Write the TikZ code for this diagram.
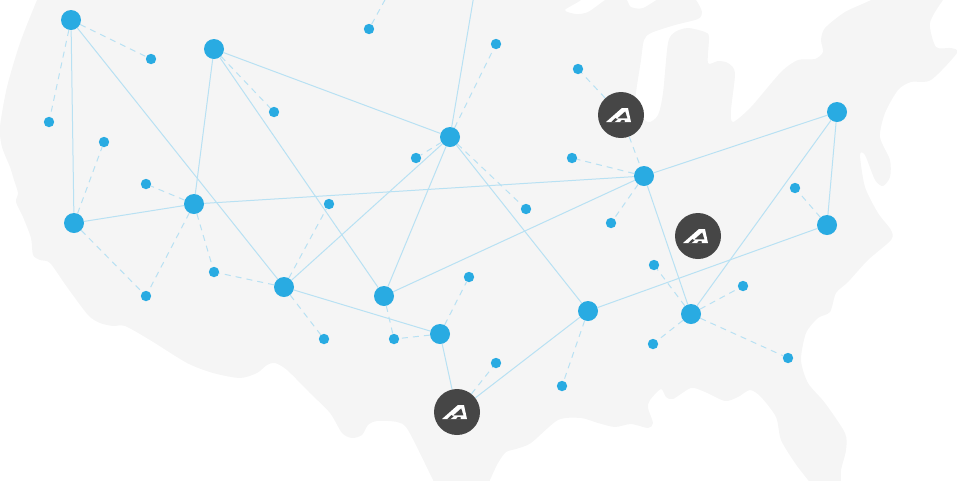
\documentclass[tikz,border=0pt]{standalone}
\usepackage{xcolor}

\definecolor{mapgray}{HTML}{F5F5F5}
\definecolor{dotblue}{HTML}{29ABE2}
\definecolor{linkblue}{HTML}{B8E1F3}
\definecolor{hubgray}{HTML}{464646}

\tikzset{
	bigdot/.style={circle, fill=dotblue, inner sep=0pt, minimum size=15pt},
	smalldot/.style={circle, fill=dotblue, inner sep=0pt, minimum size=7.8pt},
	hubdot/.style={circle, fill=hubgray, inner sep=0pt, minimum size=34.5pt},
	link/.style={draw=linkblue, line width=0.75pt},
	dashlink/.style={draw=linkblue, line width=0.75pt, dash pattern=on 4.5pt off 3.8pt},
	hublogo/.pic={
		% y runs upward inside the pic
		\fill[white] (-15,-7) -- (0.7,6.8) -- (7,6.8) -- (10,-7) -- cycle;
		\fill[hubgray] (4.2,3.6) -- (6.4,-3.4) -- (-3.6,-3.4) -- cycle;
		\fill[hubgray] (-10,-7.4) -- (-7,-7.4) -- (-3.4,-4.5) -- (-5.5,-3) -- cycle;
		\fill[hubgray] (-1.2,-7.4) -- (3.8,-7.4) -- (3.6,-5) -- (0.8,-5) -- cycle;
	}
}

\begin{document}
\begin{tikzpicture}[x=0.75pt,y=0.75pt,yscale=-1,xscale=1]
	\useasboundingbox (0,0) rectangle (957,480);
	\clip (0,0) rectangle (957,480);

	% The gray map in the background
	\fill[mapgray] plot[smooth cycle, tension=0.45] coordinates {
		(44,-15) (37,0) (20,43) (7,87) (0,127) (2,147) (10,167) (14,180) (18,193) (16,202) (23,217) (31,238)
		(33,255) (40,260) (50,263) (67,287) (88,315) (100,323) (113,326) (125,326) (150,340) (187,363) (213,373) (240,378)
		(257,373) (267,365) (275,363) (287,370) (310,393) (330,413) (342,433) (352,438) (362,435) (368,425) (377,421)
		(397,422) (408,430) (433,480) (440,495) (484,495) (490,480) (498,463) (506,452) (516,449) (531,443) (558,420) (581,418)
		(598,423) (615,427) (631,424) (648,428) (653,423) (648,408) (650,400) (661,389) (666,397) (673,399) (691,388)
		(705,392) (725,401) (738,397) (750,390) (761,397) (776,417) (781,440) (795,463) (808,480) (820,495) (838,495) (841,480)
		(841,470) (846,450) (845,433) (825,403) (808,383) (801,360) (806,333) (818,318) (830,312) (836,293) (848,282)
		(868,260) (891,240) (891,230) (878,213) (865,187) (860,155) (865,155) (875,180) (883,186) (890,177) (890,160)
		(880,137) (885,113) (898,90) (911,82) (931,80) (957,53) (951,48) (936,47) (930,23) (943,0) (955,-12) (890,-12)
		(871,0) (845,12) (825,28) (821,40) (823,52) (815,59) (798,60) (781,72) (751,107) (733,122) (731,110) (735,73)
		(728,63) (718,61) (708,63) (709,37) (705,32) (688,28) (675,32) (668,43) (663,93) (658,115) (648,122) (635,107)
		(641,60) (644,40) (651,33) (675,25) (698,19) (702,12) (696,0) (685,-10) (665,-5) (643,8) (631,7) (627,0) (620,-10)
		(605,0) (588,12) (576,14) (565,10) (581,0) (590,-12)
	};

	% The big blue dots
	\node[bigdot] (west) at (71,20) {};
	\node[bigdot] (north) at (214,49) {};
	\node[bigdot] (center) at (450,137) {};
	\node[bigdot] (lakes) at (644,176) {};
	\node[bigdot] (east) at (837,112) {};
	\node[bigdot] (coast) at (827,225) {};
	\node[bigdot] (rocky) at (194,204) {};
	\node[bigdot] (bay) at (74,223) {};
	\node[bigdot] (mesa) at (284,287) {};
	\node[bigdot] (plains) at (384,296) {};
	\node[bigdot] (lone) at (440,334) {};
	\node[bigdot] (delta) at (588,311) {};
	\node[bigdot] (south) at (691,314) {};

	% The small blue dots
	\node[smalldot] (s1) at (151,59) {};
	\node[smalldot] (s2) at (49,122) {};
	\node[smalldot] (s3) at (104,142) {};
	\node[smalldot] (s4) at (146,184) {};
	\node[smalldot] (s5) at (274,112) {};
	\node[smalldot] (s6) at (369,29) {};
	\node[smalldot] (s7) at (496,44) {};
	\node[smalldot] (s8) at (416,158) {};
	\node[smalldot] (s9) at (329,204) {};
	\node[smalldot] (s10) at (526,209) {};
	\node[smalldot] (s11) at (578,69) {};
	\node[smalldot] (s12) at (572,158) {};
	\node[smalldot] (s13) at (611,223) {};
	\node[smalldot] (s14) at (795,188) {};
	\node[smalldot] (s15) at (654,265) {};
	\node[smalldot] (s16) at (743,286) {};
	\node[smalldot] (s17) at (653,344) {};
	\node[smalldot] (s18) at (788,358) {};
	\node[smalldot] (s19) at (214,272) {};
	\node[smalldot] (s20) at (146,296) {};
	\node[smalldot] (s21) at (324,339) {};
	\node[smalldot] (s22) at (394,339) {};
	\node[smalldot] (s23) at (469,277) {};
	\node[smalldot] (s24) at (496,363) {};
	\node[smalldot] (s25) at (562,386) {};

	% The dark dots with the logo
	\node[hubdot] (hubA) at (621,115) {};
	\node[hubdot] (hubB) at (698,236) {};
	\node[hubdot] (hubC) at (457,412) {};
	\pic at (hubA) {hublogo};
	\pic at (hubB) {hublogo};
	\pic at (hubC) {hublogo};

	% The two lines that leave the picture at the top
	\coordinate (topA) at (473.5,-2);
	\coordinate (topB) at (386,-2);

	% The solid lines
	\draw[link] (west) -- (bay);
	\draw[link] (west) -- (mesa);
	\draw[link] (north) -- (rocky);
	\draw[link] (north) -- (plains);
	\draw[link] (north) -- (center);
	\draw[link] (center) -- (topA);
	\draw[link] (center) -- (mesa);
	\draw[link] (center) -- (plains);
	\draw[link] (center) -- (delta);
	\draw[link] (rocky) -- (bay);
	\draw[link] (rocky) -- (lakes);
	\draw[link] (lakes) -- (plains);
	\draw[link] (lakes) -- (east);
	\draw[link] (lakes) -- (south);
	\draw[link] (east) -- (south);
	\draw[link] (east) -- (coast);
	\draw[link] (coast) -- (delta);
	\draw[link] (mesa) -- (lone);
	\draw[link] (lone) -- (hubC);
	\draw[link] (delta) -- (hubC);

	% The dashed lines
	\draw[dashlink] (west) -- (s1);
	\draw[dashlink] (west) -- (s2);
	\draw[dashlink] (bay) -- (s3);
	\draw[dashlink] (bay) -- (s20);
	\draw[dashlink] (rocky) -- (s4);
	\draw[dashlink] (rocky) -- (s20);
	\draw[dashlink] (rocky) -- (s19);
	\draw[dashlink] (mesa) -- (s19);
	\draw[dashlink] (mesa) -- (s9);
	\draw[dashlink] (mesa) -- (s21);
	\draw[dashlink] (north) -- (s5);
	\draw[dashlink] (s6) -- (topB);
	\draw[dashlink] (center) -- (s7);
	\draw[dashlink] (center) -- (s8);
	\draw[dashlink] (center) -- (s10);
	\draw[dashlink] (plains) -- (s22);
	\draw[dashlink] (lone) -- (s22);
	\draw[dashlink] (lone) -- (s23);
	\draw[dashlink] (hubC) -- (s24);
	\draw[dashlink] (delta) -- (s25);
	\draw[dashlink] (hubA) -- (s11);
	\draw[dashlink] (hubA) -- (lakes);
	\draw[dashlink] (lakes) -- (s12);
	\draw[dashlink] (lakes) -- (s13);
	\draw[dashlink] (coast) -- (s14);
	\draw[dashlink] (south) -- (s15);
	\draw[dashlink] (south) -- (s16);
	\draw[dashlink] (south) -- (s17);
	\draw[dashlink] (south) -- (s18);
\end{tikzpicture}
\end{document}
